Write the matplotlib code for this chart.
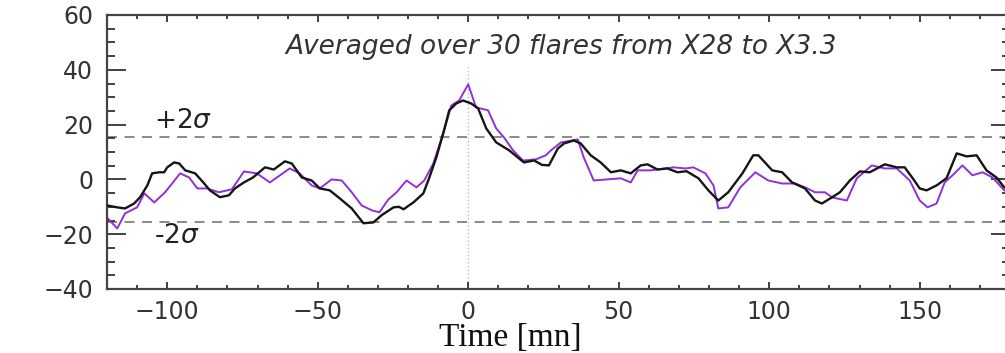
import matplotlib
matplotlib.use('Agg')
import matplotlib.pyplot as plt
from matplotlib.ticker import MultipleLocator


# Black curve (fine resolution average)
black_t = [-120, -116.6, -114, -111, -109, -106.6, -105, -102.6, -101, -100, -97.7, -96,
           -94, -90.7, -87.7, -85.8, -82.5, -79.5, -77.5, -74.5, -71.5, -67.5, -64.6,
           -60.9, -58.6, -55.3, -52, -49.3, -46, -42.7, -38.7, -34.8, -31.5, -28.8,
           -24.8, -23, -21.5, -18.2, -14.9, -12.9, -10.6, -8.3, -6.3, -4, -1.7, 1, 3.3,
           6, 9.3, 13.6, 18.5, 21.9, 24.5, 26.8, 29.8, 31.8, 35.1, 37.4, 40.7, 44, 47.4,
           50.7, 54, 57.3, 59.6, 62.9, 66.2, 69.5, 72.5, 76.5, 79.8, 83.1, 86.4, 91.1,
           94.7, 96.4, 101, 104.3, 107.6, 111.9, 115.2, 117.5, 120.5, 123.5, 126.8,
           130.1, 133.4, 138.4, 142.4, 145, 147.7, 150, 152.3, 155.6, 158.9, 162.3,
           165.6, 168.9, 172.2, 175.5, 178.1, 180]
black_v = [-9.5, -10.2, -10.6, -8.8, -6.5, -2.2, 2.2, 2.6, 2.6, 4.4, 6.2, 5.8,
           3.3, 2.2, -1.5, -4, -6.5, -5.8, -3.3, -1.1, 0.7, 4.4, 3.6,
           6.6, 5.8, 0.7, -0.4, -3.3, -4, -6.9, -10.6, -16, -15.7, -13.1,
           -10.2, -10, -10.9, -8.4, -5.1, 0.7, 8, 16.8, 25.2, 27.7, 28.8, 27.7, 25.9,
           18.6, 13.5, 10.6, 6.2, 6.9, 5.3, 5.1, 11.3, 13.1, 14.2, 13.1, 8.8, 6.2, 2.6,
           3.3, 2.2, 5.1, 5.5, 3.6, 4, 2.6, 3, 0.4, -4, -7.7, -4.7, 2.2,
           8.8, 8.8, 3.3, 2.6, -1.1, -3.3, -7.7, -8.8, -6.8, -4.7, -0.4,
           2.9, 2.6, 5.5, 4.4, 4.4, 0.4, -3.3, -4, -2.2, 0.4, 9.5,
           8.4, 8.8, 3.3, 0.7, -2.9, -3.5]

# Purple curve (coarser sampling)
purple_t = [-120, -116.6, -114, -110, -107.6, -104.3, -100.7, -95.7, -92.7, -90, -86.8,
            -82.8, -78.5, -74.5, -70.2, -65.9, -59.3, -56, -52, -49.3, -45.4, -42,
            -38.7, -35.4, -32, -29.5, -26.5, -23.8, -20.5, -17.2, -14.6, -11.6, -8.3,
            -5.6, -3, 0, 2.6, 6.6, 9.3, 11.9, 14.9, 18.2, 22.5, 25.8, 27.5, 30.8, 36.4,
            38.4, 41.7, 50.7, 54, 56.3, 60.6, 68.2, 72.2, 74.8, 78.8, 81.5, 83.1, 86.4,
            90.4, 95.4, 99.7, 104.3, 108.6, 111.9, 115.2, 118.5, 121, 125.8, 129.1,
            134.1, 138.4, 142.4, 146.7, 150, 152.6, 155.6, 158.3, 160.9, 164.2, 167.5,
            170.9, 174.2, 178.1, 180]
purple_v = [-13.9, -17.9, -12.4, -10.2, -5.1, -8.4, -4.7, 2.2, 0.7, -3.3, -3.3,
            -4.7, -3.6, 2.9, 2.2, -1.1, 4, 2.2, -2.2, -3.3, 0, -0.4,
            -4.7, -9.5, -11.3, -12, -7.3, -4.7, -0.4, -2.9, -0.4, 5.8, 16.8,
            27, 28.8, 34.7, 26.3, 25.2, 18.6, 15.3, 10.6, 6.9, 7.3, 8.8, 10.6, 13.5, 14.6,
            8, -0.4, 0.4, -1.1, 3.3, 3.3, 4.4, 4, 4.4, 2.2, -2.2, -10.6, -10.2,
            -2.9, 2.6, -0.4, -1.5, -1.5, -2.9, -4.7, -4.7, -6.6, -7.7, 0.4,
            5.1, 4, 4, -0.4, -7.7, -10.2, -8.8, -1.1, 1.5, 5.1, 1.5,
            2.6, 0.7, -4, -5]

sigma_level = 15.5
title = 'Averaged over 30 flares from X28 to X3.3'


def main():
    fig = plt.figure(figsize=(10.05, 3.53), dpi=100)
    ax = fig.add_axes([107 / 1005, 1 - 289 / 353, (1010 - 107) / 1005, (289 - 15) / 353])

    # reference levels
    ax.axhline(sigma_level, color='#777777', lw=1.2, ls=(0, (6, 4.5)), zorder=1)
    ax.axhline(-sigma_level, color='#777777', lw=1.2, ls=(0, (6, 4.5)), zorder=1)
    ax.vlines(0, -40, 41, color='#bbbbbb', lw=1.0, ls=':', zorder=1)

    ax.plot(purple_t, purple_v, color='#9130d8', lw=1.4, zorder=2)
    ax.plot(black_t, black_v, color='#151515', lw=1.7, zorder=3)

    ax.set_xlim(-120, 180)
    ax.set_ylim(-40, 60)

    ax.xaxis.set_major_locator(MultipleLocator(50))
    ax.xaxis.set_minor_locator(MultipleLocator(10))
    ax.yaxis.set_major_locator(MultipleLocator(20))
    ax.yaxis.set_minor_locator(MultipleLocator(5))

    ax.tick_params(axis='both', which='both', direction='in', top=True, right=True,
                   colors='#333333', labelcolor='#333333', labelsize=17, width=1.3)
    ax.tick_params(axis='x', which='major', length=5, pad=8)
    ax.tick_params(axis='x', which='minor', length=3)
    ax.tick_params(axis='y', which='major', length=14, pad=10)
    ax.tick_params(axis='y', which='minor', length=6)
    for s in ax.spines.values():
        s.set_linewidth(1.6)
        s.set_color('#444444')

    ax.text(31, 48.2, title, ha='center', va='center', fontsize=19,
            style='italic', color='#333333')
    ax.text(-104.5, 21.2, r'+2$\sigma$', ha='left', va='center', fontsize=19, color='#222222')
    ax.text(-104.5, -20.8, r'-2$\sigma$', ha='left', va='center', fontsize=19, color='#222222')

    fig.text(510 / 1005, 1 - 346 / 353, 'Time [mn]', ha='center', va='baseline',
             fontsize=24, family='Liberation Serif', color='#111111')

    fig.savefig('out.png', dpi=100)


if __name__ == '__main__':
    main()
